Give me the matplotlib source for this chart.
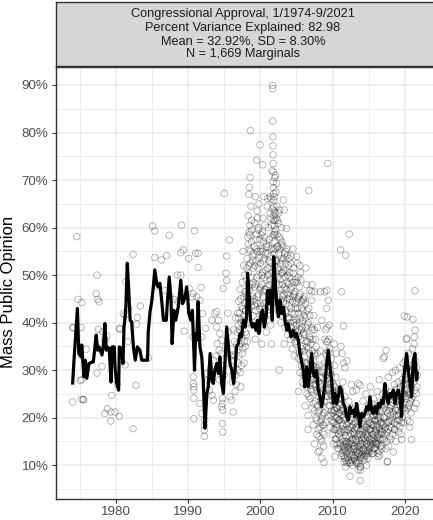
import matplotlib
import matplotlib.pyplot as plt
import numpy as np

matplotlib.rcParams.update({
    'figure.facecolor': 'w',
    'font.family': ['Liberation Sans', 'DejaVu Sans'],
})

# Smoothed congressional approval series (year, percent)
trend_years = [
    1974.05, 1974.2, 1974.5, 1974.7, 1974.9, 1975.2, 1975.3, 1975.6, 1975.8,
    1976.0, 1976.3, 1976.7, 1976.9, 1977.3, 1977.5, 1977.7, 1978.1, 1978.3,
    1978.5, 1978.7, 1978.8, 1979.1, 1979.35, 1979.5, 1979.8, 1979.9, 1980.1,
    1980.4, 1980.5, 1980.8, 1981.0, 1981.15, 1981.3, 1981.4, 1981.6, 1981.8,
    1982.0, 1982.2, 1982.45, 1982.7, 1983.0, 1983.35, 1983.6, 1984.05,
    1984.4, 1984.5, 1984.75, 1985.0, 1985.2, 1985.4, 1985.7, 1985.9, 1986.1,
    1986.4, 1986.6, 1987.0, 1987.1, 1987.4, 1987.65, 1987.8, 1988.05, 1988.3,
    1988.65, 1989.0, 1989.25, 1989.6, 1989.8, 1989.95, 1990.1, 1990.4,
    1990.6, 1990.9, 1991.05, 1991.2, 1991.4, 1991.65, 1991.9, 1992.1,
    1992.35, 1992.6, 1992.8, 1993.05, 1993.3, 1993.5, 1993.7, 1994.0, 1994.2,
    1994.4, 1994.65, 1994.9, 1995.1, 1995.35, 1995.6, 1995.8, 1996.05,
    1996.3, 1996.5, 1996.7, 1996.95, 1997.2, 1997.4, 1997.65, 1997.9, 1998.1,
    1998.25, 1998.45, 1998.65, 1998.9, 1999.15, 1999.4, 1999.6, 1999.8,
    2000.1, 2000.3, 2000.55, 2000.8, 2001.0, 2001.25, 2001.45, 2001.65,
    2001.85, 2002.0, 2002.25, 2002.5, 2002.7, 2002.95, 2003.2, 2003.4,
    2003.65, 2003.85, 2004.25, 2004.55, 2004.8, 2005.0, 2005.25, 2005.48,
    2005.94, 2006.17, 2006.4, 2006.63, 2006.86, 2007.09, 2007.32, 2007.55,
    2007.78, 2008.01, 2008.24, 2008.48, 2008.71, 2008.94, 2009.17, 2009.4,
    2009.63, 2009.86, 2010.09, 2010.32, 2010.55, 2010.78, 2011.01, 2011.24,
    2011.47, 2011.7, 2011.93, 2012.16, 2012.39, 2012.62, 2012.85, 2013.08,
    2013.31, 2013.54, 2013.77, 2014.01, 2014.24, 2014.47, 2014.7, 2014.93,
    2015.16, 2015.39, 2015.62, 2015.85, 2016.08, 2016.31, 2016.54, 2016.77,
    2017.0, 2017.23, 2017.46, 2017.69, 2017.92, 2018.15, 2018.38, 2018.61,
    2018.84, 2019.07, 2019.3, 2019.53, 2019.77, 2020.0, 2020.23, 2020.46,
    2020.69, 2020.92, 2021.15, 2021.38, 2021.61, 2021.7,
]
trend_pct = [
    27.3, 31.4, 38.4, 43.0, 33.5, 32.8, 35.3, 28.6, 32.1,
    28.3, 31.4, 31.7, 31.7, 37.4, 34.2, 34.9, 33.2, 35.3,
    39.8, 34.2, 34.9, 34.6, 27.5, 34.9, 34.9, 30.7, 27.5,
    25.8, 34.9, 34.6, 31.4, 39.1, 41.2, 43.3, 52.5, 46.8,
    40.5, 40.2, 34.9, 32.1, 34.9, 34.2, 32.1, 32.1,
    32.1, 38.1, 42.3, 44.7, 47.5, 51.1, 47.9, 47.5, 48.3,
    44.0, 40.5, 40.5, 43.3, 49.6, 44.7, 35.6, 42.6, 40.5,
    43.3, 48.9, 44.0, 45.4, 47.5, 45.4, 41.9, 40.5,
    42.6, 30.0, 37.7, 36.3, 44.4, 34.9, 32.8, 27.9,
    17.8, 25.1, 26.5, 33.5, 27.9, 27.2, 30.0, 31.4, 29.3,
    32.8, 27.2, 25.1, 31.4, 39.1, 34.9, 31.4, 30.0,
    27.2, 30.0, 34.9, 35.6, 37.7, 37.0, 40.5, 39.1, 41.2,
    50.4, 45.4, 40.5, 39.1, 39.8, 38.4, 40.5, 37.7,
    41.9, 42.6, 39.1, 41.2, 46.8, 44.0, 46.8, 40.5,
    53.9, 50.4, 44.0, 41.2, 44.7, 41.9, 43.3, 40.5,
    38.4, 39.8, 37.0, 38.4, 37.0, 37.7, 36.3, 33.5,
    30.0, 26.5, 30.7, 26.5, 30.0, 33.5, 29.3, 28.6,
    30.0, 25.8, 24.4, 22.3, 24.4, 27.2, 31.4, 34.2,
    30.7, 27.9, 23.0, 25.1, 23.0, 24.4, 26.5, 25.8,
    23.0, 22.3, 20.2, 19.5, 22.3, 20.9, 21.6, 20.2,
    23.0, 20.9, 18.1, 20.9, 20.2, 20.9, 22.3, 21.6,
    24.4, 21.6, 20.9, 22.3, 20.9, 23.0, 22.3, 23.7,
    23.0, 27.2, 24.4, 23.0, 25.1, 24.4, 25.8, 23.0,
    25.1, 25.8, 24.4, 20.2, 27.2, 30.7, 33.5, 30.0,
    27.2, 24.4, 32.1, 33.5, 27.9, 29.3,
]

# Survey marginals (year, percent approving)
polls_1974_1989 = [
    (1974.05, 23.3), (1974.05, 38.9), (1974.15, 39.0), (1974.6, 58.1),
    (1974.8, 44.9), (1975.1, 27.8), (1975.2, 39.0), (1975.3, 44.2),
    (1975.3, 28.0), (1975.3, 23.9), (1975.5, 23.8), (1975.55, 23.8),
    (1975.9, 34.4), (1977.3, 46.1), (1977.4, 50.0), (1977.4, 29.4),
    (1977.5, 44.9), (1977.6, 38.6), (1977.7, 44.4), (1978.1, 30.8),
    (1978.2, 38.1), (1978.5, 36.3), (1978.5, 20.9), (1978.75, 37.2),
    (1978.85, 21.9), (1979.3, 19.3), (1979.35, 21.2), (1979.45, 24.7),
    (1979.9, 21.2), (1980.2, 27.1), (1980.5, 20.3), (1980.5, 38.8),
    (1980.6, 38.6), (1981.05, 41.9), (1981.3, 41.6), (1981.3, 31.1),
    (1981.4, 48.6), (1981.65, 36.0), (1981.8, 43.0), (1982.4, 54.4),
    (1982.4, 17.7), (1982.8, 26.8), (1982.9, 39.7), (1983.0, 41.1),
    (1983.4, 43.5), (1984.5, 32.6), (1985.1, 60.3), (1985.4, 59.3),
    (1985.4, 53.7), (1985.7, 47.7), (1986.3, 53.2), (1986.8, 46.8),
    (1987.05, 54.1), (1987.4, 58.4), (1987.5, 45.4), (1988.05, 44.9),
    (1988.5, 50.0), (1988.6, 44.4), (1989.0, 50.0), (1989.0, 54.7),
    (1989.1, 60.5), (1989.35, 55.3), (1989.45, 38.2),
]
polls_1990_1996 = [
    (1990.1, 53.5), (1990.15, 47.2), (1990.6, 45.4), (1990.7, 46.1),
    (1990.7, 37.0), (1990.75, 28.6), (1990.75, 27.2), (1990.8, 25.8),
    (1990.8, 24.1), (1990.8, 26.5), (1990.8, 19.8), (1990.9, 59.3),
    (1991.05, 54.6), (1991.2, 45.4), (1991.4, 51.6), (1991.4, 54.6),
    (1991.65, 44.7), (1991.65, 23.0), (1991.8, 47.4), (1991.9, 37.0),
    (1991.9, 20.9), (1992.0, 41.9), (1992.25, 16.1), (1992.25, 17.4),
    (1992.25, 18.4), (1992.3, 19.5), (1992.45, 38.8), (1992.6, 29.3),
    (1992.8, 27.9), (1993.0, 25.8), (1993.05, 30.0), (1993.3, 24.7),
    (1993.3, 40.5), (1993.5, 23.7), (1993.5, 32.1), (1993.7, 41.9),
    (1993.9, 33.0), (1993.95, 39.1), (1993.95, 42.3), (1994.05, 35.6),
    (1994.1, 30.5), (1994.2, 40.5), (1994.3, 34.2), (1994.3, 28.0),
    (1994.4, 37.7), (1994.5, 31.0), (1994.6, 33.5), (1994.65, 36.3),
    (1994.65, 22.3), (1994.75, 24.0), (1994.75, 18.8), (1994.8, 21.6),
    (1994.8, 23.0), (1994.8, 17.0), (1994.9, 47.2), (1995.0, 67.2),
    (1995.0, 29.0), (1995.2, 35.0), (1995.25, 50.4), (1995.35, 48.9),
    (1995.35, 54.0), (1995.4, 31.5), (1995.5, 42.0), (1995.6, 38.0),
    (1995.7, 57.4), (1995.8, 24.4), (1995.9, 33.0), (1996.0, 23.7),
    (1996.1, 27.5), (1996.2, 32.0), (1996.25, 21.2), (1996.4, 36.0),
    (1996.5, 25.5), (1996.6, 29.0), (1996.8, 38.0), (1996.9, 31.5),
    (1996.9, 42.0),
]
polls_1997_2001 = [
    (1997.05, 33.0), (1997.1, 38.5), (1997.15, 42.0), (1997.2, 29.5),
    (1997.25, 35.5), (1997.3, 45.0), (1997.35, 40.0), (1997.4, 31.0),
    (1997.45, 37.0), (1997.5, 48.5), (1997.55, 43.0), (1997.6, 34.5),
    (1997.65, 39.5), (1997.7, 52.0), (1997.75, 41.5), (1997.8, 36.0),
    (1997.85, 46.5), (1997.9, 44.0), (1997.95, 38.0), (1997.3, 26.5),
    (1997.6, 55.0), (1997.0, 44.5), (1997.75, 31.5),
    (1998.0, 42.5), (1998.05, 49.0), (1998.1, 37.5), (1998.15, 53.5),
    (1998.2, 45.5), (1998.25, 58.0), (1998.3, 62.5), (1998.35, 50.5),
    (1998.4, 67.0), (1998.45, 55.5), (1998.5, 47.0), (1998.55, 60.5),
    (1998.6, 70.5), (1998.65, 80.4), (1998.65, 52.5), (1998.7, 64.5),
    (1998.75, 43.5), (1998.8, 57.0), (1998.85, 39.5), (1998.9, 48.0),
    (1998.95, 54.0), (1998.5, 68.5), (1998.3, 41.0), (1998.45, 59.0),
    (1998.6, 45.0), (1998.8, 61.5), (1998.2, 36.0),
    (1999.0, 44.5), (1999.05, 51.5), (1999.1, 40.0), (1999.15, 56.0),
    (1999.2, 47.5), (1999.25, 61.0), (1999.3, 66.5), (1999.35, 42.5),
    (1999.4, 53.0), (1999.45, 58.5), (1999.5, 74.2), (1999.5, 49.5),
    (1999.55, 63.5), (1999.6, 45.5), (1999.65, 55.0), (1999.7, 38.5),
    (1999.75, 59.5), (1999.8, 50.0), (1999.85, 43.0), (1999.9, 57.5),
    (1999.95, 77.4), (1999.95, 47.0), (1999.3, 36.5), (1999.6, 62.0),
    (1999.8, 65.0),
    (2000.0, 52.5), (2000.05, 44.0), (2000.1, 58.5), (2000.15, 48.0),
    (2000.2, 41.5), (2000.25, 55.0), (2000.3, 73.2), (2000.3, 50.5),
    (2000.35, 62.0), (2000.4, 45.5), (2000.45, 57.0), (2000.5, 39.5),
    (2000.55, 53.5), (2000.6, 47.0), (2000.65, 60.5), (2000.7, 43.0),
    (2000.75, 51.0), (2000.8, 56.0), (2000.85, 38.0), (2000.9, 49.0),
    (2000.95, 64.5), (2000.5, 66.5), (2000.2, 35.5),
    (2001.0, 54.5), (2001.0, 66.1), (2001.05, 47.5), (2001.1, 60.0),
    (2001.15, 42.0), (2001.2, 51.5), (2001.25, 57.5), (2001.3, 45.0),
    (2001.35, 63.0), (2001.35, 66.5), (2001.4, 49.0), (2001.45, 39.5),
    (2001.5, 55.5), (2001.55, 35.5), (2001.6, 44.0), (2001.65, 58.0),
    (2001.7, 89.9), (2001.72, 89.2), (2001.72, 82.4), (2001.74, 79.1),
    (2001.75, 77.2), (2001.76, 75.3), (2001.78, 73.5), (2001.8, 71.7),
    (2001.8, 69.6), (2001.82, 68.4), (2001.84, 67.2), (2001.85, 65.8),
    (2001.86, 64.4), (2001.88, 62.5), (2001.9, 60.5), (2001.9, 57.0),
    (2001.92, 54.5), (2001.95, 52.0), (2001.95, 66.5), (2001.98, 70.5),
    (2001.6, 72.0), (2001.5, 66.0), (2001.4, 62.0), (2001.65, 64.0),
]
polls_2002_2006 = [
    (2002.0, 58.5), (2002.05, 63.0), (2002.1, 53.0), (2002.15, 67.5),
    (2002.2, 48.5), (2002.25, 69.3), (2002.3, 56.0), (2002.35, 45.5),
    (2002.4, 61.5), (2002.45, 51.5), (2002.5, 60.9), (2002.5, 42.5),
    (2002.55, 54.5), (2002.6, 30.0), (2002.6, 48.0), (2002.65, 58.0),
    (2002.7, 63.7), (2002.75, 44.5), (2002.8, 52.5), (2002.85, 40.0),
    (2002.9, 56.5), (2002.95, 47.0), (2002.3, 64.5), (2002.1, 71.0),
    (2003.0, 57.0), (2003.05, 45.5), (2003.1, 50.5), (2003.15, 41.5),
    (2003.2, 65.8), (2003.25, 53.5), (2003.3, 63.7), (2003.35, 47.5),
    (2003.4, 39.0), (2003.45, 55.0), (2003.5, 44.0), (2003.55, 51.0),
    (2003.6, 59.8), (2003.65, 42.0), (2003.7, 48.5), (2003.75, 54.2),
    (2003.8, 37.5), (2003.85, 46.0), (2003.9, 52.0), (2003.95, 43.5),
    (2003.3, 35.5),
    (2004.0, 49.5), (2004.05, 41.0), (2004.1, 45.5), (2004.15, 36.5),
    (2004.2, 52.5), (2004.25, 43.0), (2004.3, 39.0), (2004.35, 47.5),
    (2004.4, 34.5), (2004.45, 44.5), (2004.5, 40.5), (2004.55, 50.4),
    (2004.6, 37.0), (2004.65, 46.0), (2004.7, 33.0), (2004.75, 42.0),
    (2004.8, 48.5), (2004.85, 38.5), (2004.9, 44.0), (2004.95, 35.5),
    (2004.5, 55.5),
    (2005.0, 53.9), (2005.05, 40.5), (2005.1, 52.5), (2005.15, 36.0),
    (2005.2, 45.0), (2005.25, 32.5), (2005.3, 42.0), (2005.35, 38.5),
    (2005.4, 47.5), (2005.45, 34.0), (2005.45, 52.0), (2005.5, 29.5),
    (2005.55, 41.0), (2005.55, 50.5), (2005.6, 36.5), (2005.65, 44.5),
    (2005.7, 31.0), (2005.75, 39.0), (2005.8, 27.5), (2005.85, 35.0),
    (2005.9, 42.5), (2005.9, 44.7), (2005.95, 30.5), (2005.6, 49.0),
    (2005.3, 25.5),
    (2006.0, 38.0), (2006.05, 27.0), (2006.1, 45.5), (2006.15, 33.0),
    (2006.2, 22.5), (2006.25, 41.0), (2006.3, 29.5), (2006.35, 36.0),
    (2006.4, 48.0), (2006.45, 25.0), (2006.5, 31.5), (2006.55, 39.5),
    (2006.6, 20.5), (2006.65, 34.5), (2006.7, 43.0), (2006.7, 67.8),
    (2006.75, 27.5), (2006.8, 37.0), (2006.85, 46.8), (2006.9, 24.0),
    (2006.95, 32.0), (2006.3, 51.5), (2006.6, 17.5), (2006.8, 29.0),
]
polls_2007_2011 = [
    (2007.0, 35.5), (2007.05, 28.0), (2007.1, 44.7), (2007.1, 46.5),
    (2007.15, 22.0), (2007.2, 38.5), (2007.25, 31.0), (2007.3, 18.5),
    (2007.35, 26.0), (2007.4, 41.5), (2007.45, 33.5), (2007.5, 14.5),
    (2007.55, 29.5), (2007.6, 23.5), (2007.65, 36.5), (2007.7, 20.0),
    (2007.75, 30.5), (2007.8, 16.5), (2007.85, 25.5), (2007.9, 39.0),
    (2007.95, 12.8), (2007.5, 46.5), (2007.7, 27.0), (2007.15, 48.0),
    (2008.0, 24.5), (2008.05, 17.5), (2008.1, 30.0), (2008.15, 21.5),
    (2008.2, 13.0), (2008.25, 27.0), (2008.3, 19.0), (2008.35, 34.0),
    (2008.4, 15.5), (2008.45, 23.0), (2008.5, 11.5), (2008.55, 20.5),
    (2008.6, 28.5), (2008.65, 17.0), (2008.7, 25.5), (2008.75, 14.0),
    (2008.8, 10.6), (2008.85, 31.5), (2008.9, 21.0), (2008.9, 46.5),
    (2008.95, 36.5), (2008.5, 40.5), (2008.3, 46.5), (2008.75, 18.5),
    (2009.0, 29.0), (2009.05, 38.5), (2009.1, 24.5), (2009.15, 43.0),
    (2009.2, 46.8), (2009.2, 33.0), (2009.25, 27.5), (2009.3, 73.5),
    (2009.3, 36.0), (2009.35, 20.5), (2009.4, 44.7), (2009.4, 31.0),
    (2009.45, 26.0), (2009.5, 39.5), (2009.55, 22.5), (2009.6, 34.5),
    (2009.65, 18.0), (2009.7, 29.5), (2009.75, 25.0), (2009.8, 32.5),
    (2009.85, 21.5), (2009.9, 27.5), (2009.95, 16.5),
    (2010.0, 23.5), (2010.05, 19.0), (2010.1, 27.0), (2010.15, 14.5),
    (2010.2, 21.5), (2010.25, 31.0), (2010.3, 11.8), (2010.3, 17.5),
    (2010.35, 24.5), (2010.4, 20.0), (2010.45, 28.5), (2010.5, 15.5),
    (2010.55, 22.0), (2010.6, 18.5), (2010.65, 25.5), (2010.7, 13.5),
    (2010.75, 21.0), (2010.8, 26.0), (2010.85, 16.5), (2010.9, 23.0),
    (2010.95, 19.5), (2010.5, 33.5), (2010.2, 35.5),
    (2011.0, 22.5), (2011.05, 17.0), (2011.1, 55.3), (2011.1, 26.0),
    (2011.15, 14.0), (2011.15, 35.0), (2011.2, 20.5), (2011.25, 46.5),
    (2011.25, 24.0), (2011.3, 12.5), (2011.3, 33.5), (2011.35, 18.5),
    (2011.4, 22.0), (2011.45, 15.0), (2011.5, 39.3), (2011.5, 20.0),
    (2011.5, 31.5), (2011.55, 12.0), (2011.6, 10.7), (2011.65, 17.0),
    (2011.7, 14.5), (2011.7, 30.5), (2011.75, 21.0), (2011.8, 54.2),
    (2011.8, 9.6), (2011.85, 16.0), (2011.9, 12.5), (2011.95, 18.5),
    (2011.4, 27.5), (2011.7, 24.5),
]
polls_2012_2016 = [
    (2012.0, 15.0), (2012.0, 32.0), (2012.05, 21.0), (2012.1, 11.5),
    (2012.15, 17.5), (2012.2, 13.5), (2012.25, 23.5), (2012.3, 58.6),
    (2012.3, 10.5), (2012.35, 16.0), (2012.4, 7.7), (2012.4, 19.5),
    (2012.45, 13.0), (2012.5, 22.0), (2012.55, 14.5), (2012.6, 11.0),
    (2012.65, 18.0), (2012.7, 15.5), (2012.75, 25.5), (2012.8, 12.0),
    (2012.85, 17.0), (2012.9, 20.0), (2012.95, 13.5), (2012.6, 27.0),
    (2013.0, 16.5), (2013.05, 11.5), (2013.1, 19.0), (2013.15, 13.5),
    (2013.2, 22.5), (2013.25, 10.5), (2013.3, 25.8), (2013.3, 15.0),
    (2013.35, 18.0), (2013.4, 12.0), (2013.45, 20.5), (2013.5, 14.0),
    (2013.55, 27.2), (2013.55, 9.0), (2013.6, 16.5), (2013.65, 12.5),
    (2013.7, 19.5), (2013.75, 11.0), (2013.8, 26.8), (2013.8, 9.6),
    (2013.82, 9.7), (2013.8, 6.8), (2013.85, 14.5), (2013.9, 17.5),
    (2013.95, 12.0),
    (2014.0, 15.5), (2014.05, 20.5), (2014.1, 12.5), (2014.15, 17.0),
    (2014.2, 23.5), (2014.25, 13.5), (2014.3, 18.5), (2014.35, 11.0),
    (2014.4, 15.0), (2014.45, 21.0), (2014.5, 13.0), (2014.55, 16.5),
    (2014.6, 25.0), (2014.65, 12.0), (2014.7, 10.0), (2014.7, 18.0),
    (2014.75, 14.5), (2014.8, 20.0), (2014.85, 16.0), (2014.9, 11.5),
    (2014.95, 22.5),
    (2015.0, 17.5), (2015.05, 13.0), (2015.1, 21.5), (2015.15, 15.5),
    (2015.2, 26.5), (2015.25, 19.0), (2015.3, 14.0), (2015.35, 17.0),
    (2015.4, 23.0), (2015.45, 12.5), (2015.5, 18.5), (2015.55, 15.0),
    (2015.6, 12.5), (2015.6, 20.5), (2015.65, 24.0), (2015.7, 16.5),
    (2015.75, 13.5), (2015.8, 19.5), (2015.85, 22.0), (2015.9, 15.0),
    (2015.95, 17.5),
    (2016.0, 21.0), (2016.05, 14.5), (2016.1, 18.0), (2016.15, 25.5),
    (2016.2, 16.0), (2016.25, 12.5), (2016.3, 11.8), (2016.3, 19.5),
    (2016.35, 22.5), (2016.4, 15.5), (2016.45, 28.0), (2016.5, 12.1),
    (2016.5, 17.5), (2016.55, 20.0), (2016.6, 14.0), (2016.65, 23.5),
    (2016.7, 16.5), (2016.75, 19.0), (2016.8, 13.5), (2016.85, 21.5),
    (2016.9, 17.0), (2016.95, 25.0),
]
polls_2017_2021 = [
    (2017.0, 18.5), (2017.0, 32.5), (2017.05, 22.0), (2017.1, 15.5),
    (2017.15, 32.8), (2017.2, 20.0), (2017.25, 16.5), (2017.3, 26.0),
    (2017.35, 13.5), (2017.4, 34.2), (2017.4, 19.0), (2017.45, 23.5),
    (2017.5, 15.0), (2017.55, 10.7), (2017.6, 10.8), (2017.6, 21.0),
    (2017.65, 17.5), (2017.7, 28.5), (2017.75, 14.0), (2017.8, 24.5),
    (2017.85, 19.5), (2017.9, 16.0), (2017.95, 22.0),
    (2018.0, 20.5), (2018.05, 15.5), (2018.1, 25.5), (2018.15, 18.0),
    (2018.2, 22.5), (2018.25, 29.5), (2018.3, 16.5), (2018.35, 21.0),
    (2018.4, 12.8), (2018.45, 24.5), (2018.5, 19.0), (2018.55, 27.0),
    (2018.6, 17.5), (2018.65, 22.0), (2018.7, 30.0), (2018.75, 15.0),
    (2018.8, 20.5), (2018.85, 26.0), (2018.9, 18.5), (2018.95, 23.5),
    (2019.0, 21.5), (2019.05, 27.5), (2019.1, 17.0), (2019.15, 24.0),
    (2019.2, 19.5), (2019.25, 30.5), (2019.3, 18.1), (2019.35, 22.5),
    (2019.4, 26.5), (2019.45, 16.5), (2019.5, 23.5), (2019.55, 15.4),
    (2019.6, 28.0), (2019.65, 20.0), (2019.7, 25.0), (2019.75, 31.5),
    (2019.8, 19.0), (2019.85, 24.5), (2019.9, 41.4), (2019.9, 22.0),
    (2019.95, 29.0),
    (2020.0, 25.5), (2020.05, 32.0), (2020.1, 21.5), (2020.15, 28.5),
    (2020.2, 36.5), (2020.25, 36.7), (2020.25, 24.0), (2020.3, 41.2),
    (2020.3, 30.5), (2020.35, 19.5), (2020.4, 27.0), (2020.45, 33.5),
    (2020.5, 22.5), (2020.55, 29.5), (2020.6, 25.0), (2020.65, 18.0),
    (2020.7, 19.1), (2020.7, 31.0), (2020.75, 23.5), (2020.8, 27.5),
    (2020.85, 21.0), (2020.9, 15.4), (2020.9, 26.5), (2020.95, 30.0),
    (2021.0, 28.0), (2021.05, 34.5), (2021.1, 40.7), (2021.1, 24.5),
    (2021.15, 31.0), (2021.2, 27.5), (2021.25, 35.5), (2021.3, 37.0),
    (2021.3, 22.0), (2021.35, 29.5), (2021.4, 46.7), (2021.4, 38.4),
    (2021.4, 25.8), (2021.45, 32.0), (2021.5, 28.5), (2021.55, 23.0),
    (2021.6, 25.1), (2021.6, 30.5), (2021.65, 26.5), (2021.7, 29.0),
]
# additional marginals in the heavily surveyed years
polls_1996_2005 = [
    (1996.05, 34.5), (1996.15, 29.0), (1996.3, 38.5), (1996.45, 33.0),
    (1996.55, 41.0), (1996.7, 27.0), (1996.75, 35.5), (1996.85, 30.0),
    (1996.95, 39.5),
    (1997.02, 41.0), (1997.12, 35.0), (1997.22, 47.0), (1997.32, 38.0),
    (1997.42, 43.5), (1997.52, 33.5), (1997.62, 40.5), (1997.72, 45.5),
    (1997.82, 50.0), (1997.92, 35.0), (1997.97, 42.5),
    (1998.02, 46.0), (1998.12, 51.5), (1998.22, 40.0), (1998.32, 56.5),
    (1998.37, 47.5), (1998.42, 52.0), (1998.52, 58.5), (1998.57, 44.5),
    (1998.62, 55.0), (1998.72, 49.5), (1998.77, 59.5), (1998.87, 45.5),
    (1998.92, 53.0), (1998.97, 41.5),
    (1999.02, 48.5), (1999.07, 54.5), (1999.12, 45.0), (1999.22, 52.0),
    (1999.27, 43.5), (1999.37, 57.5), (1999.42, 48.0), (1999.52, 55.5),
    (1999.57, 44.0), (1999.67, 51.5), (1999.72, 60.0), (1999.77, 46.0),
    (1999.87, 53.5), (1999.92, 41.5), (1999.97, 55.0),
    (2000.02, 47.5), (2000.07, 55.5), (2000.12, 43.5), (2000.22, 50.0),
    (2000.27, 59.0), (2000.37, 46.5), (2000.42, 53.0), (2000.52, 49.5),
    (2000.57, 58.0), (2000.62, 44.0), (2000.72, 54.5), (2000.77, 47.0),
    (2000.87, 56.5), (2000.92, 42.5), (2000.97, 51.5),
    (2001.02, 50.0), (2001.07, 56.0), (2001.12, 45.5), (2001.17, 53.0),
    (2001.22, 48.0), (2001.32, 54.0), (2001.37, 41.5), (2001.47, 52.5),
    (2001.52, 46.5), (2001.57, 60.5), (2001.62, 50.5), (2001.67, 47.0),
    (2001.77, 58.5), (2001.83, 61.5), (2001.87, 55.5), (2001.93, 63.5),
    (2001.97, 59.0),
    (2002.02, 61.5), (2002.07, 55.5), (2002.12, 59.5), (2002.17, 50.5),
    (2002.22, 62.0), (2002.27, 53.0), (2002.32, 58.5), (2002.37, 49.5),
    (2002.42, 56.0), (2002.47, 63.0), (2002.57, 51.0), (2002.62, 55.5),
    (2002.72, 49.0), (2002.77, 57.5), (2002.82, 46.0), (2002.87, 53.5),
    (2002.92, 60.0), (2002.97, 50.5),
    (2003.02, 53.0), (2003.07, 48.0), (2003.12, 56.0), (2003.17, 44.5),
    (2003.22, 51.0), (2003.27, 46.0), (2003.37, 54.5), (2003.42, 49.5),
    (2003.47, 42.5), (2003.52, 52.5), (2003.57, 47.0), (2003.67, 55.5),
    (2003.72, 45.0), (2003.77, 50.0), (2003.87, 41.0), (2003.92, 48.0),
    (2003.97, 53.5),
    (2004.02, 45.0), (2004.07, 50.5), (2004.12, 40.0), (2004.22, 47.0),
    (2004.27, 54.0), (2004.32, 42.0), (2004.42, 48.5), (2004.47, 38.0),
    (2004.57, 45.5), (2004.62, 51.5), (2004.67, 40.0), (2004.77, 46.5),
    (2004.82, 36.0), (2004.87, 43.0), (2004.92, 49.0), (2004.97, 39.5),
    (2005.02, 44.5), (2005.07, 48.5), (2005.12, 38.0), (2005.17, 43.0),
    (2005.22, 49.5), (2005.27, 37.0), (2005.32, 45.5), (2005.37, 33.5),
    (2005.42, 40.0), (2005.52, 46.0), (2005.62, 32.0), (2005.67, 38.5),
    (2005.72, 43.0), (2005.77, 34.5), (2005.82, 40.5), (2005.87, 29.0),
    (2005.92, 37.5), (2005.97, 45.0),
]
polls_2006_2020 = [
    (2006.02, 34.0), (2006.07, 41.5), (2006.12, 29.0), (2006.17, 37.5),
    (2006.22, 44.0), (2006.27, 31.5), (2006.32, 39.0), (2006.37, 26.5),
    (2006.42, 35.0), (2006.47, 42.5), (2006.52, 28.0), (2006.57, 36.0),
    (2006.62, 31.0), (2006.67, 40.0), (2006.72, 24.5), (2006.77, 33.5),
    (2006.82, 41.5), (2006.87, 28.5), (2006.92, 36.5), (2006.97, 26.0),
    (2007.02, 31.5), (2007.07, 39.0), (2007.12, 25.5), (2007.17, 34.0),
    (2007.22, 28.0), (2007.27, 36.5), (2007.32, 23.0), (2007.37, 32.0),
    (2007.42, 27.0), (2007.47, 38.5), (2007.52, 21.5), (2007.57, 33.0),
    (2007.62, 26.5), (2007.67, 30.0), (2007.72, 35.0), (2007.77, 19.5),
    (2007.82, 28.0), (2007.87, 33.5), (2007.92, 22.5), (2007.97, 30.5),
    (2008.02, 21.0), (2008.07, 27.5), (2008.12, 16.0), (2008.17, 25.0),
    (2008.22, 31.0), (2008.27, 18.0), (2008.32, 23.5), (2008.37, 28.5),
    (2008.42, 19.5), (2008.47, 26.5), (2008.52, 15.0), (2008.57, 22.5),
    (2008.62, 18.5), (2008.67, 29.5), (2008.72, 21.0), (2008.77, 26.0),
    (2008.82, 16.5), (2008.87, 23.5), (2008.92, 28.0), (2008.97, 19.0),
    (2009.02, 33.5), (2009.07, 26.5), (2009.12, 36.0), (2009.17, 29.0),
    (2009.22, 39.0), (2009.27, 31.5), (2009.32, 24.5), (2009.37, 34.0),
    (2009.42, 27.0), (2009.47, 36.5), (2009.52, 29.5), (2009.57, 25.0),
    (2009.62, 31.0), (2009.67, 22.5), (2009.72, 27.0), (2009.77, 20.5),
    (2009.82, 29.0), (2009.87, 24.5), (2009.92, 19.5), (2009.97, 25.5),
    (2010.02, 21.0), (2010.07, 25.5), (2010.12, 17.5), (2010.17, 23.0),
    (2010.22, 19.0), (2010.27, 26.5), (2010.32, 21.5), (2010.37, 15.5),
    (2010.42, 23.5), (2010.47, 18.0), (2010.52, 25.0), (2010.57, 20.0),
    (2010.62, 14.5), (2010.67, 22.0), (2010.72, 17.5), (2010.77, 24.0),
    (2010.82, 19.5), (2010.87, 13.5), (2010.92, 21.0), (2010.97, 16.0),
    (2011.02, 19.5), (2011.07, 14.5), (2011.12, 21.5), (2011.17, 17.0),
    (2011.22, 12.0), (2011.27, 19.0), (2011.32, 15.5), (2011.37, 21.5),
    (2011.42, 13.0), (2011.47, 17.5), (2011.52, 14.0), (2011.57, 19.5),
    (2011.62, 13.5), (2011.67, 11.5), (2011.72, 17.5), (2011.77, 13.0),
    (2011.82, 15.0), (2011.87, 11.0), (2011.92, 14.5), (2011.97, 10.5),
    (2012.02, 13.0), (2012.07, 17.5), (2012.12, 14.0), (2012.17, 11.0),
    (2012.22, 19.0), (2012.27, 14.5), (2012.32, 12.5), (2012.37, 18.0),
    (2012.42, 15.0), (2012.47, 10.5), (2012.52, 16.5), (2012.57, 12.0),
    (2012.62, 19.5), (2012.67, 13.5), (2012.72, 10.0), (2012.77, 15.5),
    (2012.82, 18.5), (2012.87, 14.0), (2012.92, 11.5), (2012.97, 16.5),
    (2013.02, 14.0), (2013.07, 17.5), (2013.12, 12.0), (2013.17, 15.5),
    (2013.22, 11.0), (2013.27, 18.0), (2013.32, 13.0), (2013.37, 10.5),
    (2013.42, 16.0), (2013.47, 12.5), (2013.52, 18.5), (2013.57, 14.0),
    (2013.62, 10.5), (2013.67, 15.0), (2013.72, 13.0), (2013.77, 16.5),
    (2013.82, 11.5), (2013.87, 9.0), (2013.92, 14.5), (2013.97, 19.0),
    (2014.02, 13.0), (2014.07, 16.5), (2014.12, 14.5), (2014.17, 19.5),
    (2014.22, 11.5), (2014.27, 16.0), (2014.32, 13.0), (2014.37, 17.5),
    (2014.42, 12.0), (2014.47, 18.0), (2014.52, 15.5), (2014.57, 12.5),
    (2014.62, 17.0), (2014.67, 14.5), (2014.72, 20.5), (2014.77, 13.0),
    (2014.82, 16.5), (2014.87, 18.5), (2014.92, 14.0), (2014.97, 12.5),
    (2015.02, 15.0), (2015.07, 19.0), (2015.12, 13.5), (2015.17, 17.5),
    (2015.22, 22.0), (2015.27, 14.5), (2015.32, 18.5), (2015.37, 15.5),
    (2015.42, 20.0), (2015.47, 13.0), (2015.52, 16.5), (2015.57, 21.5),
    (2015.62, 14.5), (2015.67, 18.5), (2015.72, 15.5), (2015.77, 20.5),
    (2015.82, 13.5), (2015.87, 17.0), (2015.92, 19.5), (2015.97, 14.5),
    (2016.02, 17.0), (2016.07, 20.5), (2016.12, 15.0), (2016.17, 18.5),
    (2016.22, 22.0), (2016.27, 14.5), (2016.32, 16.5), (2016.37, 20.0),
    (2016.42, 13.0), (2016.47, 18.0), (2016.52, 21.5), (2016.57, 15.5),
    (2016.62, 19.0), (2016.67, 17.0), (2016.72, 22.5), (2016.77, 14.0),
    (2016.82, 18.5), (2016.87, 15.5),
    (2017.02, 20.0), (2017.12, 17.5), (2017.22, 23.0), (2017.32, 18.0),
    (2017.42, 21.5), (2017.52, 17.0), (2017.62, 24.5), (2017.72, 19.0),
    (2017.82, 21.5), (2017.92, 18.0),
    (2018.02, 22.5), (2018.12, 19.5), (2018.22, 24.5), (2018.32, 20.0),
    (2018.42, 23.0), (2018.52, 17.5), (2018.62, 25.0), (2018.72, 21.5),
    (2018.82, 23.5), (2018.92, 19.5),
    (2019.02, 24.5), (2019.12, 20.5), (2019.22, 26.0), (2019.32, 21.0),
    (2019.42, 23.5), (2019.52, 19.0), (2019.62, 25.5), (2019.72, 22.0),
    (2019.82, 27.0), (2019.92, 25.0),
    (2020.02, 28.0), (2020.12, 24.5), (2020.22, 30.5), (2020.32, 26.0),
    (2020.42, 22.0), (2020.52, 27.5), (2020.62, 23.0), (2020.72, 25.5),
    (2020.82, 29.5), (2020.92, 24.0),
]

strip_lines = [
    "Congressional Approval, 1/1974-9/2021",
    "Percent Variance Explained: 82.98",
    "Mean = 32.92%, SD = 8.30%",
    "N = 1,669 Marginals",
]

x_breaks = [1980, 1990, 2000, 2010, 2020]
x_minor = [1975, 1985, 1995, 2005, 2015]
y_breaks = [10, 20, 30, 40, 50, 60, 70, 80, 90]
y_minor = [5, 15, 25, 35, 45, 55, 65, 75, 85]

polls = np.array(polls_1974_1989 + polls_1990_1996 + polls_1997_2001 +
                 polls_2002_2006 + polls_2007_2011 + polls_2012_2016 +
                 polls_2017_2021 + polls_1996_2005 + polls_2006_2020)

fig = plt.figure(figsize=(4.33, 5.2), dpi=100)
W, H = 433.0, 520.0

# main panel (theme_bw look)
ax = fig.add_axes([55.7 / W, 21.0 / H, 378.9 / W, 432.3 / H])
ax.set_xlim(1971.7, 2024.1)
ax.set_ylim(2.9, 93.85)

ax.set_xticks(x_breaks)
ax.set_xticks(x_minor, minor=True)
ax.set_yticks(y_breaks)
ax.set_yticks(y_minor, minor=True)
ax.set_yticklabels(["{}%".format(v) for v in y_breaks])

ax.grid(which='major', color='#EBEBEB', linewidth=1.1, zorder=0)
ax.grid(which='minor', color='#EBEBEB', linewidth=0.6, zorder=0)
ax.set_axisbelow(True)

ax.tick_params(which='major', length=3.2, width=0.8, color='#333333',
               labelsize=9.6, labelcolor='#4D4D4D', pad=2)
ax.tick_params(which='minor', length=0)
for sp in ax.spines.values():
    sp.set_color('#333333')
    sp.set_linewidth(1.0)

ax.scatter(polls[:, 0], polls[:, 1], s=22, facecolors='none',
           edgecolors=(0, 0, 0, 0.32), linewidths=0.6, zorder=2)
ax.plot(trend_years, trend_pct, color='black', linewidth=2.3,
        solid_joinstyle='round', zorder=3)

fig.text(8.5 / W, 1 - 292.0 / H, "Mass Public Opinion", rotation=90,
         ha='center', va='center', fontsize=12, color='black')

# facet strip
strip = fig.add_axes([55.7 / W, 1 - 65.9 / H, 378.9 / W, 64.2 / H])
strip.set_facecolor('#D6D6D6')
strip.set_xticks([])
strip.set_yticks([])
for sp in strip.spines.values():
    sp.set_color('#333333')
    sp.set_linewidth(1.0)
strip.text((243.0 - 55.7) / 378.9, 0.49, "\n".join(strip_lines),
           transform=strip.transAxes, ha='center', va='center',
           fontsize=9.2, color='#1A1A1A', linespacing=1.15)

fig.savefig("out.png", dpi=100)
